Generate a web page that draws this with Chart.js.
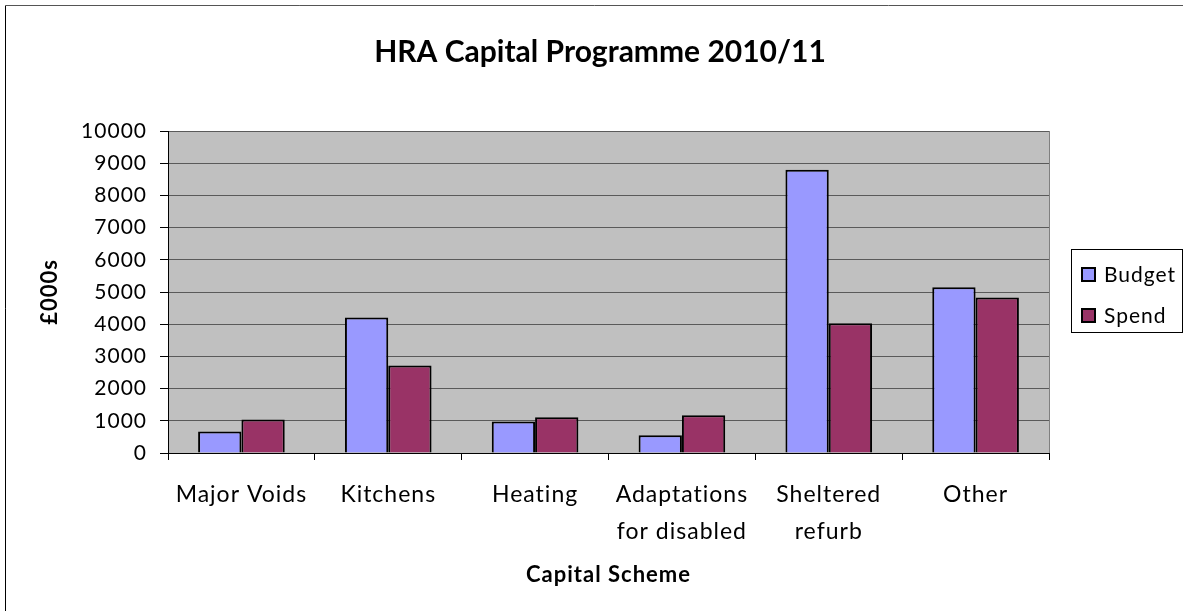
<!DOCTYPE html>
<html>
<head>
<meta charset="utf-8">
<script src="https://cdn.jsdelivr.net/npm/chart.js@4"></script>
<style>
  html, body { margin: 0; padding: 0; background: #fff; }
</style>
</head>
<body>
<canvas id="chart" width="1183" height="611"></canvas>
<script>
const chartTitle = 'HRA Capital Programme 2010/11';
const categories = ['Major Voids', 'Kitchens', 'Heating', ['Adaptations', 'for disabled'], ['Sheltered', 'refurb'], 'Other'];
const budget = [670, 4210, 980, 550, 8800, 5150];
const spend = [1040, 2720, 1110, 1170, 4030, 4830];
const yTicks = [0, 1000, 2000, 3000, 4000, 5000, 6000, 7000, 8000, 9000, 10000];

const FONT = 'Lato';

// grey plot area, slightly spaced text like the original
const plotBg = {
    id: 'plotBg',
    beforeDraw(chart) {
        const { ctx, chartArea: a } = chart;
        ctx.letterSpacing = '1px';
        ctx.save();
        ctx.fillStyle = '#C0C0C0';
        ctx.fillRect(a.left, a.top, a.right - a.left, a.bottom - a.top);
        ctx.restore();
    }
};

// plot edge, outer frame, title and boxed legend
const frame = {
    id: 'frame',
    afterDraw(chart) {
        const { ctx, chartArea: a } = chart;
        ctx.save();
        ctx.lineWidth = 1;
        ctx.strokeStyle = '#808080';
        ctx.beginPath();
        ctx.moveTo(Math.round(a.right) + 0.5, a.top);
        ctx.lineTo(Math.round(a.right) + 0.5, a.bottom);
        ctx.stroke();

        ctx.strokeStyle = '#000';
        ctx.beginPath();
        ctx.moveTo(5.5, chart.height);
        ctx.lineTo(5.5, 5.5);
        ctx.stroke();
        ctx.strokeStyle = '#555';
        ctx.beginPath();
        ctx.moveTo(5.5, 5.5);
        ctx.lineTo(chart.width, 5.5);
        ctx.stroke();

        // title
        ctx.letterSpacing = '0px';
        ctx.fillStyle = '#000';
        ctx.font = 'bold 30px ' + FONT;
        ctx.textAlign = 'center';
        ctx.textBaseline = 'middle';
        ctx.fillText(chartTitle, 600, 52);

        // legend
        const lx = 1071, ly = 249, lw = 111, lh = 83;
        ctx.fillStyle = '#fff';
        ctx.fillRect(lx, ly, lw, lh);
        ctx.strokeStyle = '#000';
        ctx.strokeRect(lx + 0.5, ly + 0.5, lw, lh);
        ctx.letterSpacing = '1px';
        ctx.font = '21px ' + FONT;
        ctx.textAlign = 'left';
        chart.data.datasets.forEach((ds, i) => {
            const cy = 274 + i * 41;
            ctx.fillStyle = ds.backgroundColor;
            ctx.fillRect(1082, cy - 6, 13, 13);
            ctx.lineWidth = 2;
            ctx.strokeStyle = '#000';
            ctx.strokeRect(1082, cy - 6, 13, 13);
            ctx.fillStyle = '#000';
            ctx.fillText(ds.label, 1104, cy + 1);
        });
        ctx.restore();
    }
};

new Chart(document.getElementById('chart'), {
    type: 'bar',
    data: {
        labels: categories,
        datasets: [{
            label: 'Budget',
            data: budget,
            backgroundColor: '#9999FF',
            borderColor: '#000',
            borderWidth: 2,
            categoryPercentage: 0.59,
            barPercentage: 1.0
        }, {
            label: 'Spend',
            data: spend,
            backgroundColor: '#993366',
            borderColor: '#000',
            borderWidth: 2,
            categoryPercentage: 0.59,
            barPercentage: 1.0
        }]
    },
    options: {
        responsive: false,
        animation: false,
        layout: { padding: { left: 0, right: 134, top: 131, bottom: 0 } },
        plugins: {
            legend: { display: false },
            tooltip: { enabled: false },
            title: { display: false }
        },
        scales: {
            x: {
                afterFit(scale) { scale.height = 158; },
                grid: {
                    offset: true,
                    drawOnChartArea: false,
                    drawTicks: true,
                    tickLength: 7,
                    color: '#000'
                },
                border: { color: '#000', width: 1 },
                ticks: {
                    color: '#000',
                    padding: 16,
                    maxRotation: 0,
                    font: { family: FONT, size: 23, lineHeight: 1.6 }
                },
                title: {
                    display: true,
                    text: 'Capital Scheme',
                    color: '#000',
                    font: { family: FONT, size: 22, weight: 'bold' },
                    padding: { top: 0, bottom: 23 }
                }
            },
            y: {
                min: 0,
                max: 10000,
                afterFit(scale) { scale.width = 168; },
                afterBuildTicks(scale) { scale.ticks = yTicks.map(v => ({ value: v })); },
                grid: {
                    color: '#5a5a5a',
                    tickColor: '#000',
                    tickLength: 8
                },
                border: { color: '#000', width: 1 },
                ticks: {
                    color: '#000',
                    padding: 13,
                    font: { family: FONT, size: 21 },
                    callback: (v) => String(v)
                },
                title: {
                    display: true,
                    text: '£000s',
                    color: '#000',
                    font: { family: FONT, size: 22, weight: 'bold' },
                    padding: { top: 37, bottom: 0 }
                }
            }
        }
    },
    plugins: [plotBg, frame]
});
</script>
</body>
</html>
